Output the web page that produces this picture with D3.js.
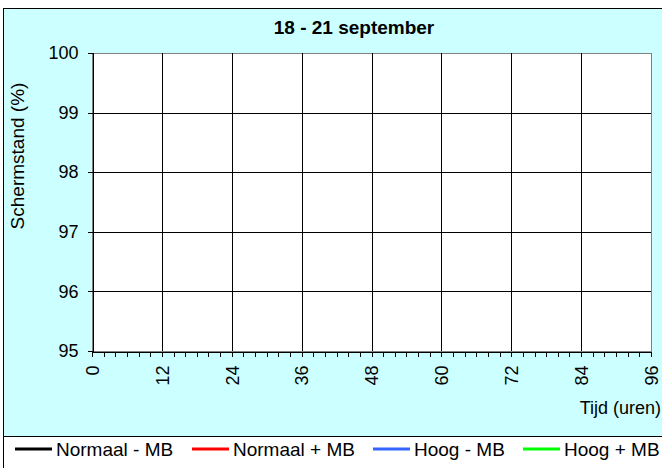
<!DOCTYPE html>
<html>
<head>
<meta charset="utf-8">
<script src="https://cdn.jsdelivr.net/npm/d3@7/dist/d3.min.js"></script>
<style>
  html, body { margin: 0; padding: 0; background: #ffffff; }
  svg { display: block; font-family: Arial, "Liberation Sans", sans-serif; }
</style>
</head>
<body>
<svg id="chart" width="662" height="468"></svg>
<script>
// Chart text
const title = "18 - 21 september";
const yTitle = "Schermstand (%)";
const xTitle = "Tijd (uren)";

// Axis ticks
const xTicks = [0, 12, 24, 36, 48, 60, 72, 84, 96];
const xMinorTicks = d3.range(0, 97, 2);
const yTicks = [95, 96, 97, 98, 99, 100];

// Series (hours, screen position %); no readings fall inside the plotted window
const seriesNames = ["Normaal - MB", "Normaal + MB", "Hoog - MB", "Hoog + MB"];
const seriesColors = ["#000000", "#ff0000", "#3366ff", "#00ff00"];
const normaalMinMB = [];
const normaalPlusMB = [];
const hoogMinMB = [];
const hoogPlusMB = [];
const seriesValues = [normaalMinMB, normaalPlusMB, hoogMinMB, hoogPlusMB];

const svg = d3.select("#chart");
const W = 662, H = 468;
const plot = { left: 92, right: 651, top: 53, bottom: 351 };
const FONT = "Arial, 'Liberation Sans', sans-serif";
const FS_TICK = 18, FS_TEXT = 19;

// Chart area background
svg.append("rect")
  .attr("x", 3.5).attr("y", 8.5)
  .attr("width", W + 10).attr("height", 428)
  .attr("fill", "#ccffff").attr("stroke", "#000").attr("stroke-width", 1);

// Legend area
svg.append("rect")
  .attr("x", 3.5).attr("y", 436.5)
  .attr("width", W + 10).attr("height", 60)
  .attr("fill", "#ffffff").attr("stroke", "#000").attr("stroke-width", 1);

const x = d3.scaleLinear().domain([0, 96]).range([plot.left, plot.right]);
const y = d3.scaleLinear().domain([95, 100]).range([plot.bottom, plot.top]);

// Plot area
svg.append("rect")
  .attr("x", plot.left).attr("y", plot.top)
  .attr("width", plot.right - plot.left).attr("height", plot.bottom - plot.top)
  .attr("fill", "#ffffff").attr("stroke", "#808080").attr("stroke-width", 1)
  .attr("shape-rendering", "crispEdges");

// Gridlines
const grid = svg.append("g").attr("shape-rendering", "crispEdges");
grid.selectAll("line.h").data(yTicks.filter(v => v > 95 && v < 100)).join("line")
  .attr("x1", plot.left).attr("x2", plot.right)
  .attr("y1", d => Math.round(y(d)) + 0.5).attr("y2", d => Math.round(y(d)) + 0.5)
  .attr("stroke", "#000");
grid.selectAll("line.v").data(xTicks.filter(v => v > 0 && v < 96)).join("line")
  .attr("y1", plot.top).attr("y2", plot.bottom)
  .attr("x1", d => Math.round(x(d)) + 0.5).attr("x2", d => Math.round(x(d)) + 0.5)
  .attr("stroke", "#000");

// Series lines
const line = d3.line().x(d => x(d[0])).y(d => y(d[1]));
svg.append("g").selectAll("path").data(seriesValues).join("path")
  .attr("d", d => d.length ? line(d) : null)
  .attr("fill", "none")
  .attr("stroke", (d, i) => seriesColors[i])
  .attr("stroke-width", 2.5);

// Y axis
const yAxis = svg.append("g")
  .attr("transform", `translate(${plot.left + 0.5},0)`)
  .call(d3.axisLeft(y).tickValues(yTicks).tickSize(5).tickPadding(9).tickFormat(d3.format("d")));
yAxis.selectAll("text").attr("font-size", FS_TICK).attr("fill", "#000").attr("font-family", FONT);
yAxis.selectAll("line, path").attr("stroke", "#000").attr("shape-rendering", "crispEdges");

// X axis minor ticks
const xMinor = svg.append("g")
  .attr("transform", `translate(0,${plot.bottom + 0.5})`)
  .call(d3.axisBottom(x).tickValues(xMinorTicks).tickSize(5).tickFormat(""));
xMinor.selectAll("line, path").attr("stroke", "#000").attr("shape-rendering", "crispEdges");

// X axis major ticks and rotated labels
const xAxis = svg.append("g")
  .attr("transform", `translate(0,${plot.bottom + 0.5})`)
  .call(d3.axisBottom(x).tickValues(xTicks).tickSize(5).tickFormat(d3.format("d")));
xAxis.selectAll("line, path").attr("stroke", "#000").attr("shape-rendering", "crispEdges");
xAxis.selectAll("text")
  .attr("font-size", FS_TICK).attr("fill", "#000")
  .attr("font-family", FONT)
  .attr("text-anchor", "end")
  .attr("transform", "rotate(-90)")
  .attr("x", -14).attr("y", 0).attr("dy", "0.35em");

// Title
svg.append("text")
  .attr("x", 354).attr("y", 34)
  .attr("text-anchor", "middle")
  .attr("font-size", FS_TEXT).attr("font-weight", "bold")
  .text(title);

// Y axis title
svg.append("text")
  .attr("transform", "translate(24,156) rotate(-90)")
  .attr("text-anchor", "middle")
  .attr("font-size", FS_TEXT)
  .text(yTitle);

// X axis title
svg.append("text")
  .attr("x", 661).attr("y", 414)
  .attr("text-anchor", "end")
  .attr("font-size", FS_TICK)
  .text(xTitle);

// Legend
const legendX = [15, 192, 373, 523];
const legend = svg.append("g").selectAll("g").data(seriesNames).join("g")
  .attr("transform", (d, i) => `translate(${legendX[i]},449)`);
legend.append("line")
  .attr("x1", 0).attr("x2", 37).attr("y1", 0).attr("y2", 0)
  .attr("stroke", (d, i) => seriesColors[i]).attr("stroke-width", 3);
legend.append("text")
  .attr("x", 41).attr("y", 0).attr("dy", "0.35em")
  .attr("font-size", FS_TEXT)
  .text(d => d);
</script>
</body>
</html>
